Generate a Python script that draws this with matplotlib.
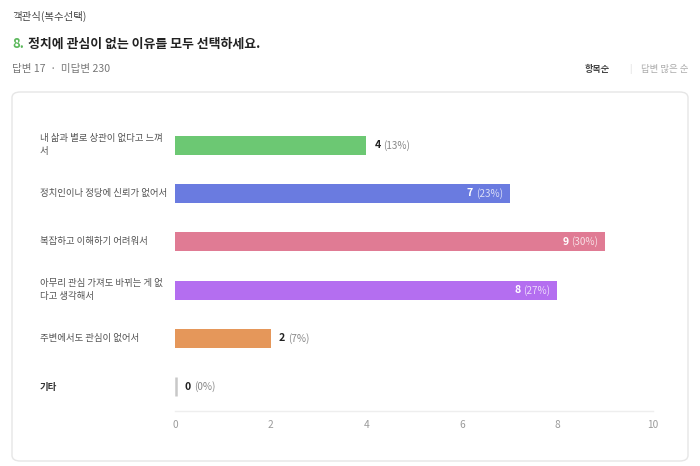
import matplotlib
matplotlib.use("Agg")
import matplotlib.pyplot as plt
from matplotlib.patches import FancyBboxPatch

plt.rcParams['font.family'] = ['Noto Sans CJK KR', 'DejaVu Sans']

categories = [
    "내 삶과 별로 상관이 없다고 느껴\n서",
    "정치인이나 정당에 신뢰가 없어서",
    "복잡하고 이해하기 어려워서",
    "아무리 관심 가져도 바뀌는 게 없\n다고 생각해서",
    "주변에서도 관심이 없어서",
    "기타",
]
values = [4, 7, 9, 8, 2, 0]
percents = [13, 23, 30, 27, 7, 0]
colors = ["#6cc873", "#6a7be0", "#e07b94", "#b46ef0", "#e5975a", "#c8c8c8"]
xticks = [0, 2, 4, 6, 8, 10]

W, H = 700, 466
fig = plt.figure(figsize=(W / 100, H / 100), dpi=100)

def fx(x):
    return x / W

def fy(y):
    return 1 - y / H

# Card
card = FancyBboxPatch((fx(12), fy(461)), fx(688) - fx(12), fy(92) - fy(461),
                      boxstyle="round,pad=0,rounding_size=0.012",
                      transform=fig.transFigure, facecolor="white",
                      edgecolor="#e6e6e6", linewidth=1.0, zorder=-5)
fig.patches.append(card)

# Header texts
fig.text(fx(12), fy(16), "객관식(복수선택)", fontsize=7.5, color="#444444",
         va="center", ha="left")
fig.text(fx(12), fy(44), "8.", fontsize=9.5, color="#5cb85c", fontweight="bold",
         va="center", ha="left")
fig.text(fx(28), fy(44), "정치에 관심이 없는 이유를 모두 선택하세요.", fontsize=9.3,
         color="#222222", fontweight="bold", va="center", ha="left")
fig.text(fx(12), fy(69), "답변 17  ·  미답변 230", fontsize=7.6, color="#777777",
         va="center", ha="left")
fig.text(fx(585), fy(69), "항목순", fontsize=6.6, color="#444444", fontweight="bold",
         va="center", ha="left")
fig.text(fx(630), fy(69), "|", fontsize=6.5, color="#dddddd", va="center", ha="center")
fig.text(fx(641), fy(69), "답변 많은 순", fontsize=6.8, color="#aaaaaa",
         va="center", ha="left")

# Axes
ax = fig.add_axes([fx(175), fy(411), fx(653) - fx(175), fy(121) - fy(411)])
ax.set_zorder(5)
ax.set_facecolor("none")
ypos = list(range(len(categories)))
ax.barh(ypos, values, height=0.39, color=colors, zorder=2)
for i, v in enumerate(values):
    if v == 0:
        ax.plot([0.03, 0.03], [i - 0.2, i + 0.2], color=colors[i], linewidth=1.8,
                zorder=3, solid_capstyle="butt")

ax.set_xlim(0, 10)
ax.set_ylim(len(categories) - 0.5, -0.5)
ax.set_xticks(xticks)
ax.set_xticklabels([str(t) for t in xticks], fontsize=7.3, color="#9a9a9a")
ax.tick_params(axis="x", length=0, pad=6.5)
ax.set_yticks([])
for s in ["top", "right", "left"]:
    ax.spines[s].set_visible(False)
ax.spines["bottom"].set_color("#eeeeee")
ax.spines["bottom"].set_linewidth(1.0)

# Category labels
for i, c in enumerate(categories):
    y_disp = ax.transData.transform((0, i))[1]
    yf = fig.transFigure.inverted().transform((0, y_disp))[1]
    bold = (c == "기타")
    fig.text(fx(40), yf, c, fontsize=6.8, color="#333333" if bold else "#555555",
             fontweight="bold" if bold else "normal", va="center", ha="left",
             linespacing=1.6)

fig.canvas.draw()
renderer = fig.canvas.get_renderer()

# Value labels
for i, (v, p) in enumerate(zip(values, percents)):
    inside = v >= 5
    if inside:
        tp = ax.annotate(f"({p}%)", xy=(v, i), xytext=(-5, 0), textcoords="offset points",
                         ha="right", va="center", fontsize=7.2, color="white", alpha=0.75)
        fig.canvas.draw()
        w = tp.get_window_extent(renderer).width * 72 / fig.dpi
        ax.annotate(f"{v}", xy=(v, i), xytext=(-5 - w - 2, 0), textcoords="offset points",
                    ha="right", va="center", fontsize=7.6, color="white", fontweight="bold")
    else:
        x0 = v if v > 0 else 0.03
        tn = ax.annotate(f"{v}", xy=(x0, i), xytext=(6, 0), textcoords="offset points",
                         ha="left", va="center", fontsize=7.6, color="#222222",
                         fontweight="bold")
        fig.canvas.draw()
        w = tn.get_window_extent(renderer).width * 72 / fig.dpi
        ax.annotate(f"({p}%)", xy=(x0, i), xytext=(6 + w + 2, 0), textcoords="offset points",
                    ha="left", va="center", fontsize=7.2, color="#888888")

fig.savefig("out.png", dpi=100, facecolor="white")
